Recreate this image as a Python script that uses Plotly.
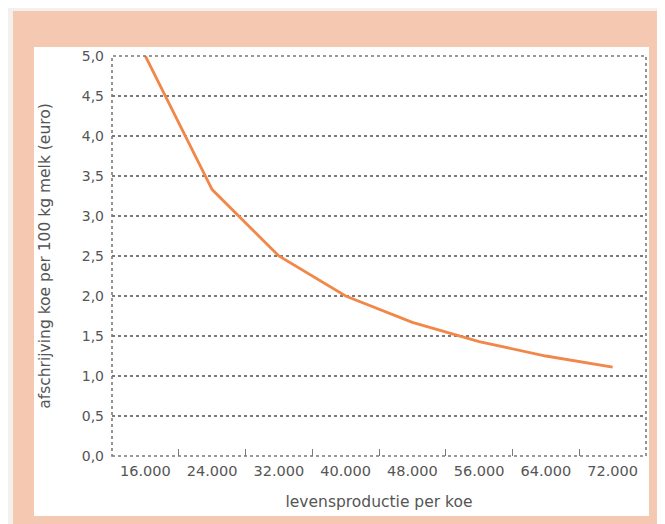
import plotly.graph_objects as go

# Data
categories = ["16.000", "24.000", "32.000", "40.000", "48.000", "56.000", "64.000", "72.000"]
afschrijving = [5.0, 3.33, 2.5, 2.0, 1.67, 1.43, 1.25, 1.11]
y_ticks = [0.0, 0.5, 1.0, 1.5, 2.0, 2.5, 3.0, 3.5, 4.0, 4.5, 5.0]

OFF = 8  # default page margin of the html body
W, H = 665 - OFF, 524 - OFF
L, R, T, B = 112 - OFF, 646 - OFF, 56 - OFF, 456 - OFF  # plot area in figure pixels


def px(x):
    return (x - OFF - L) / (R - L)


def py(y):
    return (B - (y - OFF)) / (B - T)


fig = go.Figure()
fig.add_trace(go.Scatter(
    x=categories, y=afschrijving, mode="lines",
    line=dict(color="#f2874a", width=2.8),
    hoverinfo="x+y", showlegend=False,
))

grid_col = "#7a7a7a"
text_col = "#555555"

fig.update_layout(
    width=W, height=H,
    margin=dict(l=L, r=W - R, t=T, b=H - B),
    paper_bgcolor="#f4f0ee",
    plot_bgcolor="#ffffff",
    separators=",.",
    font=dict(family="DejaVu Sans", size=13, color=text_col),
    shapes=[
        # peach panel
        dict(type="rect", xref="paper", yref="paper", layer="below",
             x0=px(13), x1=px(670), y0=py(530), y1=py(11),
             fillcolor="#f5c8b1", line=dict(width=0)),
        # white card
        dict(type="rect", xref="paper", yref="paper", layer="below",
             x0=px(34), x1=px(649), y0=py(516), y1=py(47),
             fillcolor="#ffffff", line=dict(width=0)),
        # dotted plot border
        dict(type="rect", xref="paper", yref="paper", layer="above",
             x0=0, x1=1, y0=0, y1=1,
             line=dict(color=grid_col, width=1.6, dash="dot")),
    ],
    xaxis=dict(
        type="category", range=[-0.5, 7.5],
        showgrid=False, zeroline=False, showline=False,
        ticks="inside", tickson="boundaries", ticklen=7, tickwidth=1.2,
        tickcolor=grid_col, ticklabelstandoff=4,
        tickfont=dict(size=14.5, color=text_col),
        title=dict(text="levensproductie per koe", standoff=18,
                   font=dict(size=15.5, color=text_col)),
    ),
    yaxis=dict(
        range=[0, 5], tickvals=y_ticks, tickformat=".1f",
        showgrid=True, gridcolor=grid_col, gridwidth=1.6, griddash="dot",
        zeroline=False, showline=False, ticks="",
        ticklabelstandoff=7,
        tickfont=dict(size=14, color=text_col),
        title=dict(text="afschrijving koe per 100 kg melk (euro)", standoff=27,
                   font=dict(size=15.5, color=text_col)),
    ),
)

fig.write_html("out.html")
